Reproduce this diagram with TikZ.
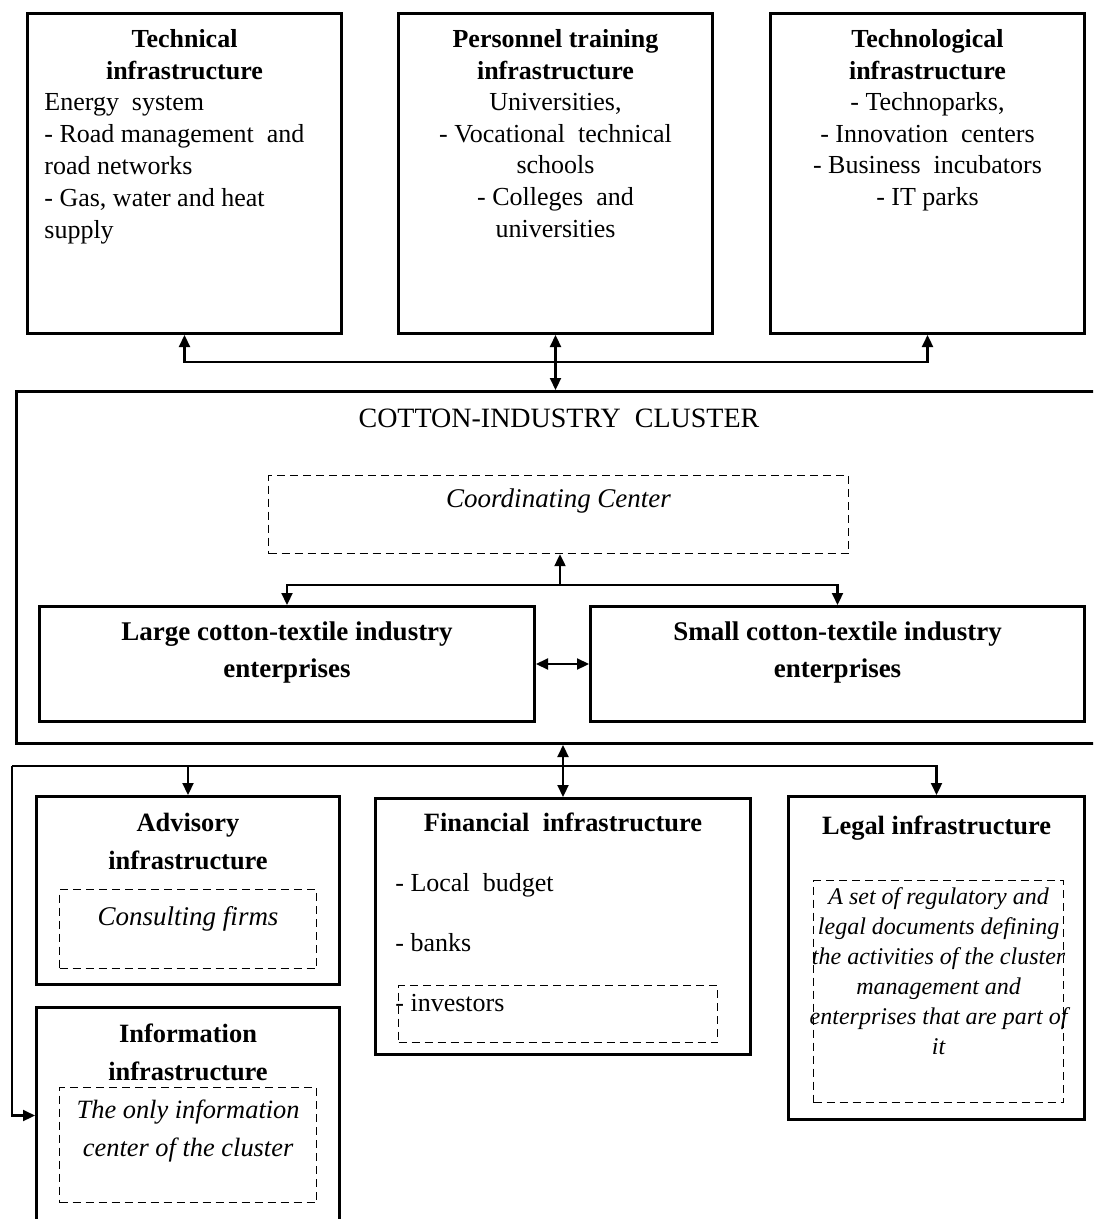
\documentclass[tikz,border=0pt]{standalone}
\usepackage{fontspec}
\setmainfont{Liberation Serif}
\usetikzlibrary{positioning, arrows.meta}
\tikzset{
	boxframe/.style={draw, line width=1.5pt, anchor=north west, inner sep=0pt},
	dashbox/.style={draw, line width=0.6pt, dash pattern=on 4pt off 2.5pt, anchor=north west, inner sep=0pt}
}
\tikzset{
	toptext/.style={font=\fontsize{13}{15.8}\selectfont, align=center, inner sep=0pt, anchor=north},
	titletext/.style={font=\fontsize{13.2}{19}\selectfont\bfseries, align=center, inner sep=0pt, anchor=north},
	notetext/.style={font=\fontsize{13.2}{19}\selectfont\itshape, align=center, inner sep=0pt, anchor=north},
	link/.style={line width=1.1pt, -{Triangle[length=6pt,width=5.5pt]}},
	link2/.style={line width=1.1pt, {Triangle[length=6pt,width=5.5pt]}-{Triangle[length=6pt,width=5.5pt]}}
}
\newcommand{\ttl}[1]{\textbf{#1}}
\begin{document}
\begin{tikzpicture}[x=0.5pt, y=-0.5pt]
      \useasboundingbox (0,0) rectangle (1093,1219);
      \clip (0,0) rectangle (1093,1219);
      % upper row of infrastructures
      \node[boxframe, minimum width=157pt, minimum height=160pt] (tech) at (26,12) {};
      \node[boxframe, minimum width=157pt, minimum height=160pt] (pers) at (397,12) {};
      \node[boxframe, minimum width=157pt, minimum height=160pt] (techno) at (769,12) {};
      \node[toptext] (techtitle) at ([yshift=-8.5pt]tech.north) {\ttl{Technical}\\\ttl{infrastructure}};
      \node[toptext, align=left, anchor=north west, font=\fontsize{13}{16}\selectfont] (techbody)
        at ([xshift=9pt, yshift=-40.5pt]tech.north west)
        {Energy\ \ system\\- Road management\ \ and\\road networks\\- Gas, water and heat\\supply};
      \node[toptext] (perstxt) at ([yshift=-8.5pt]pers.north)
        {\ttl{Personnel training}\\\ttl{infrastructure}\\Universities,\\- Vocational\ \ technical\\schools\\- Colleges\ \ and\\universities};
      \node[toptext] (technotxt) at ([yshift=-8.5pt]techno.north)
        {\ttl{Technological}\\\ttl{infrastructure}\\- Technoparks,\\- Innovation\ \ centers\\- Business\ \ incubators\\- IT parks};
      % the cluster
      \node[boxframe, minimum width=542.5pt, minimum height=176pt] (clus) at (15,390) {};
      \node[inner sep=0pt, anchor=north, font=\fontsize{14}{16}\selectfont] (clustitle)
        at ([yshift=-9.5pt]clus.north) {COTTON-INDUSTRY\ \ CLUSTER};
      \node[dashbox, minimum width=290pt, minimum height=39pt] (coord) at (268,475) {};
      \node[notetext, font=\fontsize{13.5}{19}\selectfont\itshape] (coordtxt) at ([yshift=-6.5pt]coord.north) {Coordinating Center};
      \node[boxframe, minimum width=247.5pt, minimum height=57.5pt] (large) at (38,605) {};
      \node[boxframe, minimum width=247pt, minimum height=57.5pt] (small) at (589,605) {};
      \node[titletext, font=\fontsize{13.5}{18.5}\selectfont\bfseries] (largetxt) at ([yshift=-8pt]large.north)
        {Large cotton-textile industry\\enterprises};
      \node[titletext, font=\fontsize{13.5}{18.5}\selectfont\bfseries] (smalltxt) at ([yshift=-8pt]small.north)
        {Small cotton-textile industry\\enterprises};
      % lower row of infrastructures
      \node[boxframe, minimum width=151.5pt, minimum height=94pt] (adv) at (35,795) {};
      \node[dashbox, minimum width=128.5pt, minimum height=39.5pt] (advnote) at (59,889) {};
      \node[titletext] (advtitle) at ([yshift=-9pt]adv.north) {Advisory\\infrastructure};
      \node[notetext, font=\fontsize{13.5}{19}\selectfont\itshape] (advtxt) at ([yshift=-8.5pt]advnote.north) {Consulting firms};
      \node[boxframe, minimum width=151.5pt, minimum height=108pt] (info) at (35,1006) {};
      \node[dashbox, minimum width=128.5pt, minimum height=57.5pt] (infonote) at (59,1087) {};
      \node[titletext] (infotitle) at ([yshift=-8.5pt]info.north) {Information\\infrastructure};
      \node[notetext] (infotxt) at ([yshift=-6pt]infonote.north) {The only information\\center of the cluster};
      \node[boxframe, minimum width=187.5pt, minimum height=128pt] (fin) at (374,797) {};
      \node[dashbox, minimum width=159.5pt, minimum height=28.5pt] (finnote) at (398,985) {};
      \node[titletext] (fintitle) at ([yshift=-8pt]fin.north) {Financial\ \ infrastructure};
      \node[toptext, align=left, anchor=north west, font=\fontsize{13}{30}\selectfont] (finbody)
        at ([xshift=10.5pt, yshift=-38pt]fin.north west) {- Local\ \ budget\\- banks\\- investors};
      \node[boxframe, minimum width=148pt, minimum height=161.5pt] (legal) at (787,795) {};
      \node[dashbox, minimum width=125pt, minimum height=111pt] (legalnote) at (813,880) {};
      \node[titletext] (legaltitle) at ([yshift=-10.5pt]legal.north) {Legal infrastructure};
      \node[notetext, font=\fontsize{12}{15}\selectfont\itshape] (legaltxt) at ([yshift=-3.5pt]legalnote.north)
        {A set of regulatory and\\legal documents defining\\the activities of the cluster\\management and\\enterprises that are part of\\it};
      % connectors above the cluster
      \coordinate (topbus) at (554,362);
      \draw[link] (topbus) -| (tech.south);
      \draw[link] (topbus) -| (techno.south);
      \draw[link2] (pers.south) -- (pers.south |- clus.north);
      % connectors inside the cluster
      \coordinate (midbus) at (560,585);
      \draw[link] (midbus) -- (midbus |- coord.south);
      \draw[link] (midbus) -| (large.north);
      \draw[link] (midbus) -| (small.north);
      \draw[link2] (large.east) -- (large.east -| small.west);
      % connectors below the cluster
      \coordinate (lowbus) at (12,766);
      \draw[link2] (fin.north |- clus.south) -- (fin.north);
      \draw[link] (lowbus) -| (legal.north);
      \draw[link] (adv.north |- lowbus) -- (adv.north);
      \draw[link] (lowbus) |- (info.west);
\end{tikzpicture}
\end{document}
